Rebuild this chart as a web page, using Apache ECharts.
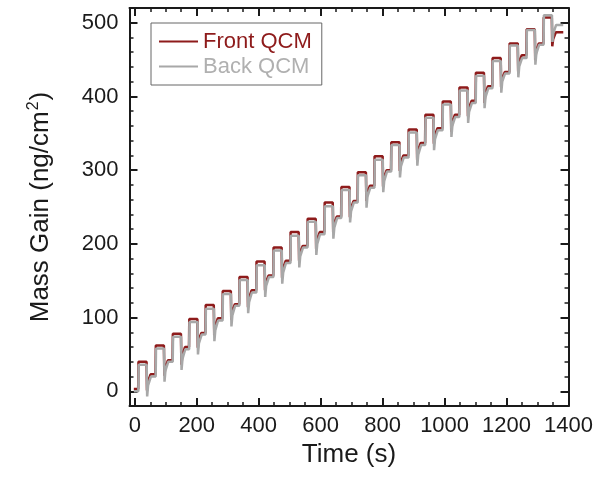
<!DOCTYPE html>
<html>
<head>
<meta charset="utf-8">
<script src="https://cdn.jsdelivr.net/npm/echarts@6/dist/echarts.min.js"></script>
<style>
  html, body { margin: 0; padding: 0; background: #fff; }
  #chart { width: 596px; height: 478px; }
</style>
</head>
<body>
<div id="chart"></div>
<script>
// QCM mass gain during successive ALD cycles (front and back crystals)

// time (s) at which each cycle's precursor pulse starts
const stepTimes = [11, 67, 122, 175, 228, 283, 337, 392, 447, 502, 557, 612, 666,
                   719, 773, 827, 883, 937, 993, 1047, 1100, 1154, 1209, 1264, 1319];

// Front QCM (ng/cm2): plateau after the pulse, dip at the purge, partial recovery, settled level
const frontTop  = [40, 62, 78, 98, 117, 136, 155, 176, 195, 216, 234, 256, 277,
                   297, 319, 338, 355, 375, 393, 412, 432, 452, 472, 491, 507];
const frontDip  = [1, 21, 36, 59, 76, 97, 114, 137, 154, 177, 193, 216, 236,
                   258, 278, 299, 314, 336, 352, 373, 391, 413, 434, 449, 468];
const frontMid  = [13, 32, 48, 70, 88, 108, 126, 148, 166, 188, 205, 227, 248,
                   269, 290, 310, 326, 347, 364, 384, 403, 424, 446, 461, 478];
const frontBase = [23, 42, 60, 79, 99, 118, 137, 157, 177, 197, 216, 237, 258,
                   279, 300, 320, 337, 357, 375, 394, 414, 433, 456, 472, 487];

// Back QCM (ng/cm2)
const backTop  = [36, 58, 74, 94, 112, 132, 151, 171, 191, 211, 230, 251, 273,
                  293, 314, 334, 351, 371, 389, 408, 428, 448, 469, 490, 510];
const backDip  = [-7, 13, 29, 50, 68, 88, 106, 128, 146, 168, 185, 207, 229,
                  249, 270, 290, 306, 327, 345, 364, 384, 405, 426, 443, 474];
const backMid  = [8, 28, 44, 65, 83, 103, 121, 143, 161, 183, 200, 222, 244,
                  264, 285, 305, 321, 342, 360, 379, 399, 420, 441, 458, 486];
const backBase = [20, 40, 57, 77, 96, 116, 134, 155, 174, 195, 213, 235, 256,
                  276, 298, 317, 334, 354, 372, 391, 411, 431, 452, 470, 497];

// start / end of the recording
const traceStart = -3;
const traceEnd = 1383;
const frontInitial = 3;
const backInitial = 0;

// axis ticks
const xMajorTicks = [0, 200, 400, 600, 800, 1000, 1200, 1400];
const xMinorTicks = [50, 100, 150, 250, 300, 350, 450, 500, 550, 650, 700, 750,
                     850, 900, 950, 1050, 1100, 1150, 1250, 1300, 1350];
const yMajorTicks = [0, 100, 200, 300, 400, 500];
const yMinorTicks = [20, 40, 60, 80, 120, 140, 160, 180, 220, 240, 260, 280,
                     320, 340, 360, 380, 420, 440, 460, 480];

// pulse / purge timing within a cycle (s after the pulse start)
const frontTiming = { rise0: 0, rise1: 1, hold: 27, drop: 28.5, rec1: 31.5, rec2: 40 };
const backTiming  = { rise0: 0.5, rise1: 1.5, hold: 27.5, drop: 29, rec1: 32, rec2: 41 };

function buildTrace(initial, top, dip, mid, base, tm) {
  const pts = [[traceStart, initial]];
  let prev = initial;
  for (let i = 0; i < stepTimes.length; i++) {
    const s = stepTimes[i];
    pts.push([s + tm.rise0, prev]);
    pts.push([s + tm.rise1, top[i]]);
    pts.push([s + tm.hold, top[i]]);
    pts.push([s + tm.drop, dip[i]]);
    pts.push([s + tm.rec1, mid[i]]);
    pts.push([s + tm.rec2, base[i]]);
    prev = base[i];
  }
  pts.push([traceEnd, prev]);
  return pts;
}

const frontData = buildTrace(frontInitial, frontTop, frontDip, frontMid, frontBase, frontTiming);
const backData  = buildTrace(backInitial, backTop, backDip, backMid, backBase, backTiming);

const FONT = '"Liberation Sans", Arial, sans-serif';
const INK = '#1a1a1a';
const RED = '#8E1B1B';
const GREY = '#A8A8A8';
const X_MIN = -17, X_MAX = 1400, Y_MIN = -20, Y_MAX = 520;

function frameAxis(extra) {
  return Object.assign({
    type: 'value',
    splitLine: { show: false },
    axisLine: { show: true, onZero: false, lineStyle: { color: INK, width: 2 } },
    axisTick: { show: true, inside: true, length: 8, lineStyle: { color: INK, width: 2 } },
    axisLabel: { show: false },
    axisPointer: { show: false }
  }, extra);
}
function minorAxis(extra, values) {
  return Object.assign({
    type: 'value',
    splitLine: { show: false },
    axisLine: { show: false, onZero: false },
    axisTick: { show: true, inside: true, length: 4, customValues: values,
                lineStyle: { color: INK, width: 1.5 } },
    axisLabel: { show: false }
  }, extra);
}
const plainNumber = v => String(v);

const chart = echarts.init(document.getElementById('chart'), null, { renderer: 'canvas' });
chart.setOption({
  animation: false,
  backgroundColor: '#fff',
  grid: { left: 129.5, right: 22.7, top: 8, bottom: 72 },
  legend: {
    left: 151, top: 23,
    orient: 'vertical',
    padding: [6, 10, 6, 8],
    itemGap: 0,
    itemWidth: 39,
    itemHeight: 2,
    icon: 'rect',
    borderColor: '#666',
    borderWidth: 1,
    textStyle: { fontFamily: FONT, fontSize: 22, lineHeight: 25 },
    data: [
      { name: 'Front QCM', textStyle: { color: RED } },
      { name: 'Back QCM', textStyle: { color: '#B0B0B0' } }
    ]
  },
  xAxis: [
    frameAxis({
      position: 'bottom', min: X_MIN, max: X_MAX,
      axisTick: { show: true, inside: true, length: 8, customValues: xMajorTicks,
                  lineStyle: { color: INK, width: 2 } },
      axisLabel: { show: true, customValues: xMajorTicks, margin: 9, formatter: plainNumber,
                   fontFamily: FONT, fontSize: 22, color: INK },
      name: 'Time (s)', nameLocation: 'middle', nameGap: 33,
      nameTextStyle: { fontFamily: FONT, fontSize: 26, color: INK }
    }),
    minorAxis({ position: 'bottom', min: X_MIN, max: X_MAX }, xMinorTicks),
    frameAxis({
      position: 'top', min: X_MIN, max: X_MAX,
      axisTick: { show: true, inside: true, length: 8, customValues: xMajorTicks,
                  lineStyle: { color: INK, width: 2 } }
    }),
    minorAxis({ position: 'top', min: X_MIN, max: X_MAX }, xMinorTicks)
  ],
  yAxis: [
    frameAxis({
      position: 'left', min: Y_MIN, max: Y_MAX,
      axisTick: { show: true, inside: true, length: 8, customValues: yMajorTicks,
                  lineStyle: { color: INK, width: 2 } },
      axisLabel: { show: true, customValues: yMajorTicks, margin: 11, formatter: plainNumber,
                   fontFamily: FONT, fontSize: 22, color: INK },
      name: 'Mass Gain (ng/cm{sup|2})', nameLocation: 'middle', nameGap: 74,
      nameRotate: 90,
      nameTextStyle: {
        fontFamily: FONT, fontSize: 26, color: INK,
        rich: { sup: { fontFamily: FONT, fontSize: 16, color: INK,
                       verticalAlign: 'top', padding: [0, 1, 14, 1] } }
      }
    }),
    minorAxis({ position: 'left', min: Y_MIN, max: Y_MAX }, yMinorTicks),
    frameAxis({
      position: 'right', min: Y_MIN, max: Y_MAX,
      axisTick: { show: true, inside: true, length: 8, customValues: yMajorTicks,
                  lineStyle: { color: INK, width: 2 } }
    }),
    minorAxis({ position: 'right', min: Y_MIN, max: Y_MAX }, yMinorTicks)
  ],
  series: [
    {
      name: 'Front QCM', type: 'line', xAxisIndex: 0, yAxisIndex: 0,
      data: frontData, showSymbol: false, symbol: 'none',
      lineStyle: { color: RED, width: 2.5 }, itemStyle: { color: RED },
      silent: true
    },
    {
      name: 'Back QCM', type: 'line', xAxisIndex: 0, yAxisIndex: 0,
      data: backData, showSymbol: false, symbol: 'none',
      lineStyle: { color: GREY, width: 2.5 }, itemStyle: { color: GREY },
      silent: true
    }
  ]
});
</script>
</body>
</html>
